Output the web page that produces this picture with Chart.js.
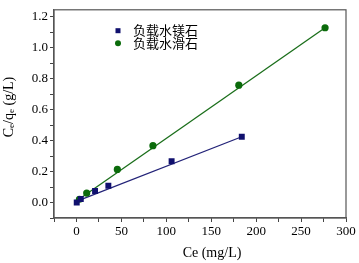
<!DOCTYPE html>
<html>
<head>
<meta charset="utf-8">
<script src="https://cdn.jsdelivr.net/npm/chart.js@4/dist/chart.umd.min.js"></script>
<style>
  body { margin: 0; background: #fff; }
  #box { width: 359px; height: 263px; }
</style>
</head>
<body>
<div id="box"><canvas id="chart"></canvas></div>
<script>
// les donnees
let nomMg = '负载水镁石'
let nomTalc = '负载水滑石'
let ceMg = [0.3, 4.8, 20.7, 35.5, 105.9, 184]
let qMg = [0.0, 0.023, 0.075, 0.108, 0.266, 0.425]
let ceTalc = [3.3, 11.4, 45.5, 85.1, 180.7, 276.7]
let qTalc = [0.021, 0.061, 0.214, 0.367, 0.758, 1.129]
// droites de regression (debut / fin)
let fitMgX = [0, 184]
let fitMgY = [0.008, 0.425]
let fitTalcX = [0, 276.7]
let fitTalcY = [0.01, 1.129]

let bleu = '#10106e'
let vert = '#0b6b0b'
let serif = "'Liberation Serif', 'DejaVu Serif', serif"

function points(xs, ys) {
    return xs.map((x, i) => ({ x: x, y: ys[i] }))
}

// cadre + titres des axes + legende
let deco = {
    id: 'deco',
    afterDraw(chart) {
        let ctx = chart.ctx
        let a = chart.chartArea
        ctx.save()
        ctx.strokeStyle = '#555'
        ctx.lineWidth = 1.2
        ctx.strokeRect(a.left, a.top, a.right - a.left, a.bottom - a.top)

        ctx.fillStyle = '#000'
        ctx.textBaseline = 'middle'
        ctx.textAlign = 'center'
        ctx.font = '14px ' + serif
        ctx.fillText('Ce (mg/L)', 212, 253)

        // titre y avec indices
        let parts = [['C', 14, 0], ['e', 9, 3], ['/q', 14, 0], ['e', 9, 3], [' (g/L)', 14, 0]]
        let total = 0
        parts.forEach(p => {
            ctx.font = p[1] + 'px ' + serif
            total += ctx.measureText(p[0]).width
        })
        ctx.translate(9, 107)
        ctx.rotate(-Math.PI / 2)
        ctx.textAlign = 'left'
        let x = -total / 2
        parts.forEach(p => {
            ctx.font = p[1] + 'px ' + serif
            ctx.fillText(p[0], x, p[2])
            x += ctx.measureText(p[0]).width
        })
        ctx.restore()

        // legende
        ctx.save()
        ctx.fillStyle = bleu
        ctx.fillRect(115.5, 28.2, 5, 5)
        ctx.fillStyle = vert
        ctx.beginPath()
        ctx.arc(118, 43.3, 3, 0, Math.PI * 2)
        ctx.fill()
        ctx.fillStyle = '#000'
        ctx.font = "13px 'Noto Sans CJK SC'"
        ctx.textBaseline = 'middle'
        ctx.fillText(nomMg, 133, 30.5)
        ctx.fillText(nomTalc, 133, 43.5)
        ctx.restore()
    }
}

new Chart($ = document.getElementById('chart'), {
    type: 'scatter',
    data: {
        datasets: [
            {
                label: nomMg,
                data: points(ceMg, qMg),
                pointStyle: 'rect',
                pointRadius: 4.2,
                backgroundColor: bleu,
                borderColor: bleu,
                borderWidth: 0,
                order: 0
            },
            {
                label: nomTalc,
                data: points(ceTalc, qTalc),
                pointStyle: 'circle',
                pointRadius: 3.6,
                backgroundColor: vert,
                borderColor: vert,
                borderWidth: 0,
                order: 0
            },
            {
                label: 'fitMg',
                data: points(fitMgX, fitMgY),
                showLine: true,
                pointRadius: 0,
                borderColor: '#232378',
                borderWidth: 1.3,
                order: 1
            },
            {
                label: 'fitTalc',
                data: points(fitTalcX, fitTalcY),
                showLine: true,
                pointRadius: 0,
                borderColor: '#1a6e1a',
                borderWidth: 1.3,
                order: 1
            }
        ]
    },
    options: {
        responsive: true,
        maintainAspectRatio: false,
        animation: false,
        layout: { padding: { top: 3, right: 13, left: 0, bottom: 0 } },
        plugins: {
            legend: { display: false },
            tooltip: { enabled: false }
        },
        scales: {
            x: {
                type: 'linear',
                min: -25,
                max: 300,
                afterFit(scale) { scale.height = 45 },
                border: { display: true, color: '#555', width: 1.2 },
                grid: { drawOnChartArea: false, drawTicks: true, tickLength: 4, color: '#444' },
                ticks: {
                    stepSize: 25,
                    includeBounds: false,
                    maxRotation: 0,
                    autoSkip: false,
                    padding: 2,
                    color: '#000',
                    font: { family: serif, size: 13 },
                    callback: v => (v >= 0 && v % 50 === 0) ? String(v) : ''
                }
            },
            y: {
                min: -0.1,
                max: 1.245,
                afterFit(scale) { scale.width = 54 },
                border: { display: true, color: '#555', width: 1.2 },
                grid: { drawOnChartArea: false, drawTicks: true, tickLength: 4, color: '#444' },
                ticks: {
                    stepSize: 0.1,
                    includeBounds: false,
                    autoSkip: false,
                    padding: 2,
                    color: '#000',
                    font: { family: serif, size: 13 },
                    callback: v => {
                        let n = Math.round(v * 10)
                        return (n >= 0 && n % 2 === 0) ? (n / 10).toFixed(1) : ''
                    }
                }
            }
        }
    },
    plugins: [deco]
})
</script>
</body>
</html>
